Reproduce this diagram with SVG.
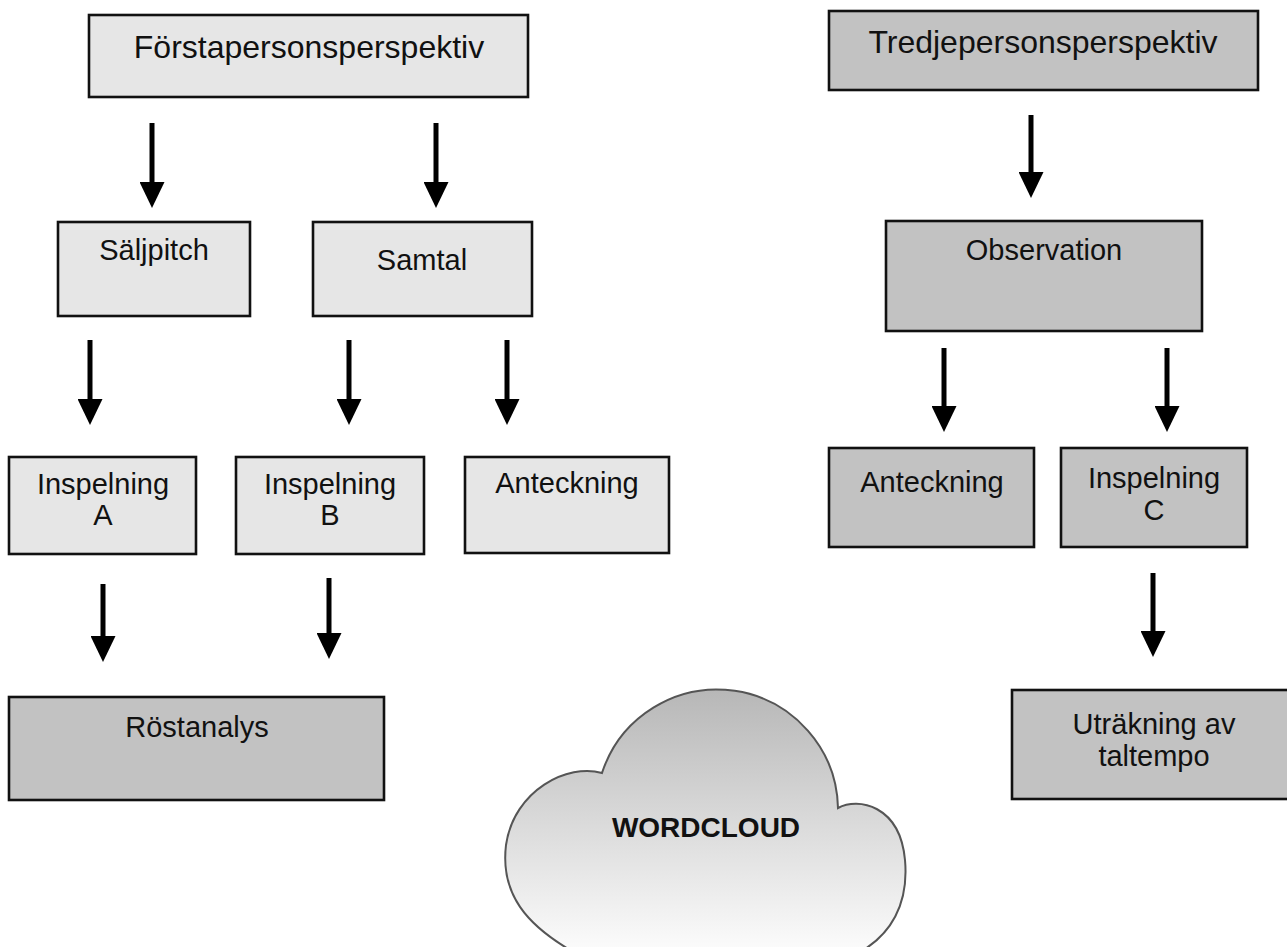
<svg xmlns="http://www.w3.org/2000/svg" width="1287" height="947" viewBox="0 0 1287 947">
<style>
  .box{stroke:#111;stroke-width:2.6}
  .light{fill:#e6e6e6}
  .dark{fill:#c2c2c2}
  text{font-family:"Liberation Sans",Arial,Helvetica,sans-serif;fill:#111;text-anchor:middle}
  .t32{font-size:32px}
  .t29{font-size:29px}
  .arrow{stroke:#000;stroke-width:5;fill:none;marker-end:url(#ah)}
  .cloudtxt{font-size:28px;font-weight:bold}
</style>
<defs>
  <marker id="ah" viewBox="0 0 26 25" refX="6" refY="12.5" markerWidth="26" markerHeight="25" markerUnits="userSpaceOnUse" orient="auto">
    <path d="M0,0 L26,12.5 L0,25 Z" fill="#000"/>
  </marker>
  <linearGradient id="cg" x1="0" y1="0" x2="0" y2="1">
    <stop offset="0" stop-color="#b7b7b7"/>
    <stop offset="1" stop-color="#fcfcfc"/>
  </linearGradient>
</defs>
<rect width="1287" height="947" fill="#fff"/>

<g id="connectors">
  <line class="arrow" x1="152" y1="123" x2="152" y2="188"/>
  <line class="arrow" x1="436" y1="123" x2="436" y2="188"/>
  <line class="arrow" x1="90" y1="340" x2="90" y2="405"/>
  <line class="arrow" x1="349" y1="340" x2="349" y2="405"/>
  <line class="arrow" x1="507" y1="340" x2="507" y2="405"/>
  <line class="arrow" x1="103" y1="584" x2="103" y2="642"/>
  <line class="arrow" x1="329" y1="578" x2="329" y2="639"/>
  <line class="arrow" x1="1031" y1="115" x2="1031" y2="178"/>
  <line class="arrow" x1="944" y1="348" x2="944" y2="412"/>
  <line class="arrow" x1="1167" y1="348" x2="1167" y2="412"/>
  <line class="arrow" x1="1153" y1="573" x2="1153" y2="637"/>
</g>

<g id="forstaperson">
  <rect class="box light" x="89" y="15" width="439" height="82"/>
  <text class="t32" x="309" y="58">Förstapersonsperspektiv</text>
</g>
<g id="saljpitch">
  <rect class="box light" x="58" y="222" width="192" height="94"/>
  <text class="t29" x="154" y="260">Säljpitch</text>
</g>
<g id="samtal">
  <rect class="box light" x="313" y="222" width="219" height="94"/>
  <text class="t29" x="422" y="270">Samtal</text>
</g>
<g id="inspelningA">
  <rect class="box light" x="9" y="457" width="187" height="97"/>
  <text class="t29" x="103" y="494">Inspelning</text>
  <text class="t29" x="103" y="525">A</text>
</g>
<g id="inspelningB">
  <rect class="box light" x="236" y="457" width="188" height="97"/>
  <text class="t29" x="330" y="494">Inspelning</text>
  <text class="t29" x="330" y="525">B</text>
</g>
<g id="anteckning1">
  <rect class="box light" x="465" y="457" width="204" height="96"/>
  <text class="t29" x="567" y="493">Anteckning</text>
</g>
<g id="rostanalys">
  <rect class="box dark" x="9" y="697" width="375" height="103"/>
  <text class="t29" x="197" y="737">Röstanalys</text>
</g>

<g id="tredjeperson">
  <rect class="box dark" x="829" y="11" width="429" height="79"/>
  <text class="t32" x="1043" y="53">Tredjepersonsperspektiv</text>
</g>
<g id="observation">
  <rect class="box dark" x="886" y="221" width="316" height="110"/>
  <text class="t29" x="1044" y="260">Observation</text>
</g>
<g id="anteckning2">
  <rect class="box dark" x="829" y="448" width="205" height="99"/>
  <text class="t29" x="932" y="492">Anteckning</text>
</g>
<g id="inspelningC">
  <rect class="box dark" x="1061" y="448" width="186" height="99"/>
  <text class="t29" x="1154" y="488">Inspelning</text>
  <text class="t29" x="1154" y="520">C</text>
</g>
<g id="utrakning">
  <rect class="box dark" x="1012" y="690" width="290" height="109"/>
  <text class="t29" x="1154" y="734">Uträkning av</text>
  <text class="t29" x="1154" y="766">taltempo</text>
</g>

<g id="wordcloud">
  <path d="M570,950 C528,925 500,895 506,845 C514,790 568,763 602,773 A121,121 0 0 1 838,808 C858,797 900,805 905,860 C909,905 890,935 860,952 Z" fill="url(#cg)" stroke="#555" stroke-width="2"/>
  <text class="cloudtxt" x="706" y="837">WORDCLOUD</text>
</g>
</svg>
